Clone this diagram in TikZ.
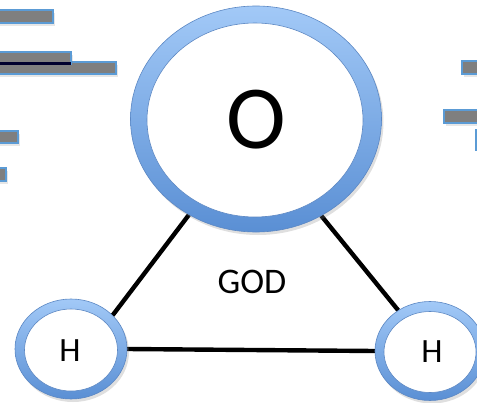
\documentclass[tikz,border=0pt]{standalone}
\usepackage{fontspec}
\setmainfont{Carlito}
\usetikzlibrary{shapes.geometric,shadows}
\definecolor{ringtop}{HTML}{A2C9F7}
\definecolor{ringbot}{HTML}{5A8FD4}
\definecolor{ringedge}{HTML}{5B87C3}
\definecolor{barfill}{HTML}{7F7F7F}
\definecolor{baredge}{HTML}{5B9BD5}
\tikzset{
  ring/.style={ellipse, inner sep=0pt, top color=ringtop, bottom color=ringbot, draw=ringedge, line width=0.6pt,
    drop shadow={opacity=0.25, shadow xshift=2pt, shadow yshift=-3pt}},
  hole/.style={ellipse, inner sep=0pt, fill=white, draw=ringedge, line width=0.6pt},
  bond/.style={line width=4.4pt, black},
  bar/.style={fill=barfill, draw=baredge, line width=1.4pt,
    drop shadow={opacity=0.2, shadow xshift=2pt, shadow yshift=-3pt}},
  lbl/.style={font=\fontsize{34}{34}\selectfont}
}
\begin{document}
\begin{tikzpicture}[x=1pt,y=-1pt]
\useasboundingbox (0,0) rectangle (477,402);
% bars left
\draw[bar] (-3,10) rectangle (53,23);
\draw[bar] (-3,62) rectangle (116,74);
\draw[bar] (-3,52) rectangle (71,64);
\fill[black!70!blue!60!black] (-3,62) rectangle (71,65);
\draw[bar] (-3,131) rectangle (18,143);
\draw[bar] (-3,168) rectangle (6,181);
% bars right
\draw[bar] (462,61) rectangle (480,74);
\draw[bar] (444,110) rectangle (480,123);
\draw[bar] (476,130) rectangle (480,150);
% node geometry (invisible anchors)
\node[ellipse, minimum width=251pt, minimum height=226pt, inner sep=0pt] (O) at (256,119) {};
\node[ellipse, minimum width=112pt, minimum height=100pt, inner sep=0pt] (H1) at (71,349) {};
\node[ellipse, minimum width=110pt, minimum height=99pt, inner sep=0pt] (H2) at (430,351) {};
% bonds
\draw[bond] (H1.39) -- (O.235);
\draw[bond] (H2.128) -- (O.304);
\draw[bond] (H1.east) -- (H2.west);
% rings
\node[ring, minimum width=251pt, minimum height=226pt] (Oring) at (O) {};
\node[hole, minimum width=216pt, minimum height=194pt] (Ohole) at (255,120) {};
\node[lbl, font=\fontsize{90}{90}\selectfont] (Olbl) at (256,120) {O};
\node[ring, minimum width=112pt, minimum height=100pt] (H1ring) at (H1) {};
\node[hole, minimum width=93pt, minimum height=82pt] (H1hole) at (71,350) {};
\node[lbl] (H1lbl) at (70,351) {H};
\node[ring, minimum width=110pt, minimum height=99pt] (H2ring) at (H2) {};
\node[hole, minimum width=92pt, minimum height=81pt] (H2hole) at (430,352) {};
\node[lbl] (H2lbl) at (432,352) {H};
\node[lbl, font=\fontsize{36}{36}\selectfont] (god) at (252,282) {GOD};
\end{tikzpicture}
\end{document}
